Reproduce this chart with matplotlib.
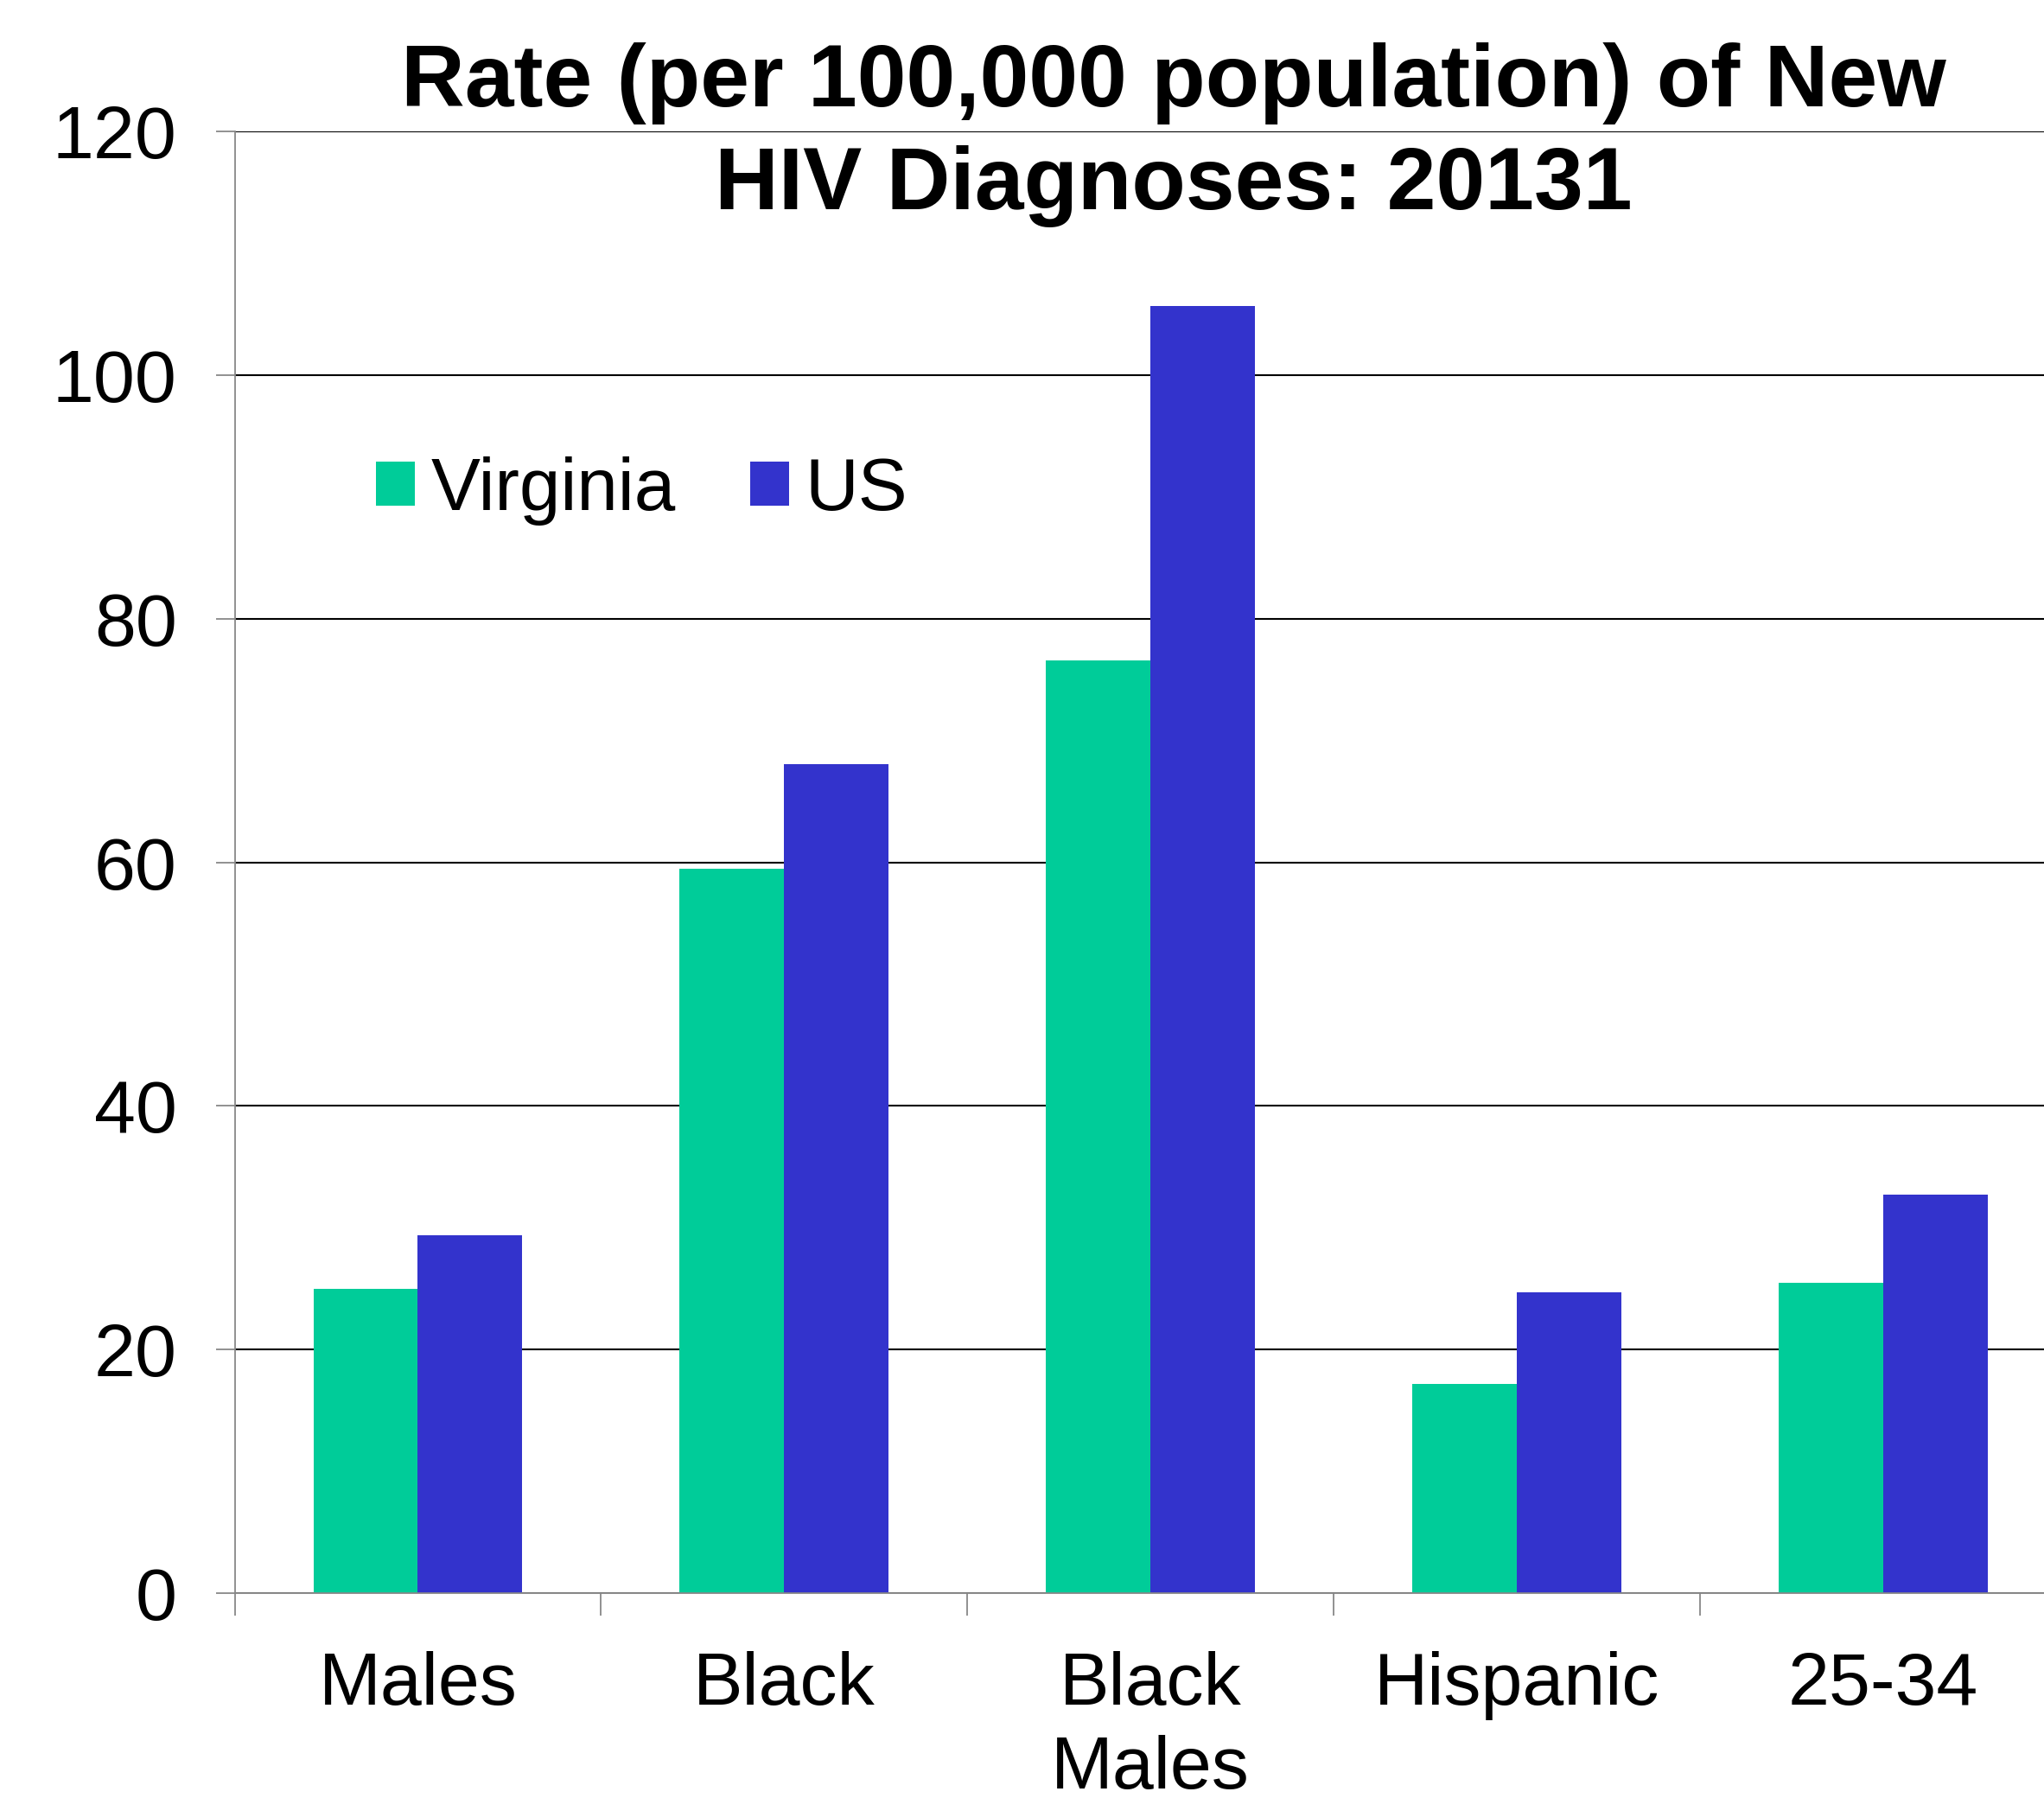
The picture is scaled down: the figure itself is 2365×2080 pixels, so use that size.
import numpy as np
import matplotlib
matplotlib.use("Agg")
import matplotlib.pyplot as plt

plt.rcParams['font.family'] = ['Liberation Sans', 'DejaVu Sans']

# Daten
categories = ["Males", "Black", "Black\nMales", "Hispanic", "25-34"]
virginia = [25.0, 59.5, 76.6, 17.2, 25.5]
us = [29.4, 68.1, 105.7, 24.7, 32.7]
series_names = ["Virginia", "US"]
yticks = [0, 20, 40, 60, 80, 100, 120]

green = "#00CC99"
blue = "#3333CC"
grey = "#888888"

fig = plt.figure(figsize=(23.65, 20.8), dpi=100)
# Achse geht rechts etwas ueber den Rand hinaus (wie im Original)
ax = fig.add_axes([0.1148, 0.1139, 0.8961, 0.8129])

x = np.arange(len(categories))
w = 0.285
ax.bar(x - w / 2, virginia, w, color=green, label=series_names[0], zorder=3)
ax.bar(x + w / 2, us, w, color=blue, label=series_names[1], zorder=3)

ax.set_xlim(-0.5, len(categories) - 0.5)
ax.set_ylim(0, 120)
ax.set_yticks(yticks)
ax.set_yticklabels([str(v) for v in yticks], fontsize=62)
ax.yaxis.grid(True, color="black", linewidth=1.5, zorder=0)
ax.set_axisbelow(True)

ax.set_xticks(x)
ax.set_xticklabels(categories, fontsize=62, linespacing=1.28)
ax.set_xticks(np.arange(len(categories) + 1) - 0.5, minor=True)
ax.tick_params(axis="x", which="major", length=0, pad=48)
ax.tick_params(axis="x", which="minor", length=19, width=1.3, color=grey, direction="out")
ax.tick_params(axis="y", length=16, width=1.3, color=grey, direction="out", pad=32)

for s in ["top", "right"]:
    ax.spines[s].set_visible(False)
for s in ["left", "bottom"]:
    ax.spines[s].set_color(grey)
    ax.spines[s].set_linewidth(1.3)
    ax.spines[s].set_zorder(4)

fig.text(0.574, 0.925, "Rate (per 100,000 population) of New\nHIV Diagnoses: 20131",
         ha="center", va="center", fontsize=73.5, fontweight="bold", linespacing=1.33)

leg = fig.legend(loc="center left", bbox_to_anchor=(0.1695, 0.727), ncol=2, fontsize=61.5,
                 frameon=False, handlelength=0.53, handleheight=0.53, handletextpad=0.22,
                 columnspacing=1.0, borderaxespad=0)

fig.savefig("out.png", dpi=100)
